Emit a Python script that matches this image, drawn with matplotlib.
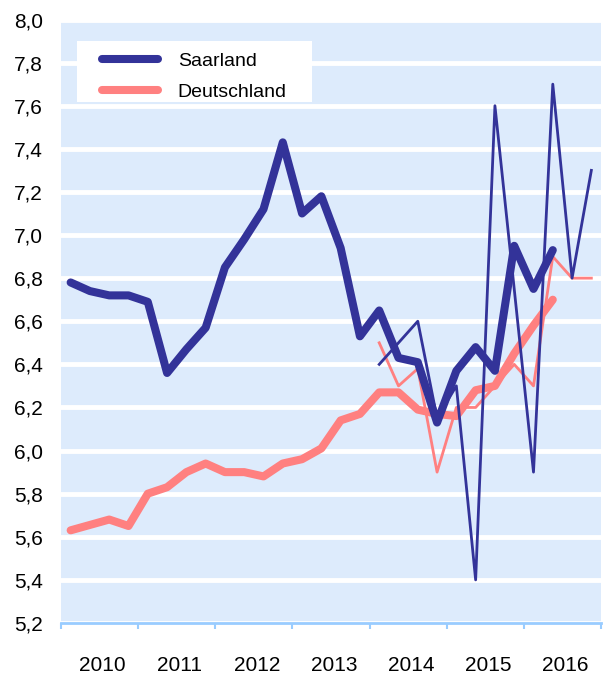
import numpy as np
import matplotlib.pyplot as plt
from matplotlib.patches import Rectangle
from matplotlib.ticker import FixedLocator, FuncFormatter

plt.rcParams['font.family'] = ['Liberation Sans', 'DejaVu Sans']

# quarterly values, 2010Q1 .. 2016Q2
saarland = [6.78, 6.74, 6.72, 6.72, 6.69, 6.36, 6.47, 6.57, 6.85, 6.98, 7.12, 7.43, 7.10,
            7.18, 6.94, 6.53, 6.65, 6.43, 6.41, 6.13, 6.37, 6.48, 6.37, 6.95, 6.75, 6.93]
deutschland = [5.63, 5.655, 5.68, 5.65, 5.80, 5.83, 5.90, 5.94, 5.90, 5.90, 5.88, 5.94, 5.96,
               6.01, 6.14, 6.17, 6.27, 6.27, 6.19, 6.17, 6.16, 6.28, 6.30, 6.45, 6.58, 6.70]
# thin lines, 2014Q1 .. 2016Q4
saarland_q = [6.40, 6.50, 6.60, 6.15, 6.30, 5.40, 7.60, 6.75, 5.90, 7.70, 6.80, 7.30]
deutschland_q = [6.50, 6.30, 6.38, 5.90, 6.20, 6.20, 6.30, 6.40, 6.30, 6.90, 6.80, 6.80]
years = [2010, 2011, 2012, 2013, 2014, 2015, 2016]

blue = "#333399"
pink = "#ff8080"

x_long = 2010 + (np.arange(len(saarland)) + 0.5) / 4
x_short = 2014 + (np.arange(len(saarland_q)) + 0.5) / 4

fig = plt.figure(figsize=(6.11, 6.77), dpi=100)
ax = fig.add_axes([61/611, 1 - 623/677, 540/611, 603.5/677])
ax.set_facecolor("#ddebfc")

ax.plot(x_long, deutschland, color=pink, lw=5.8, solid_capstyle="round", label="Deutschland", zorder=3)
ax.plot(x_short, deutschland_q, color=pink, lw=2.0, zorder=4)
ax.plot(x_long, saarland, color=blue, lw=5.8, solid_capstyle="round", label="Saarland", zorder=5)
ax.plot(x_short, saarland_q, color=blue, lw=2.0, zorder=6)

ax.set_xlim(2010, 2017)
ax.set_ylim(5.2, 8.0)
ax.set_yticks(np.arange(5.2, 8.01, 0.2))
ax.yaxis.set_major_formatter(FuncFormatter(lambda v, p: f"{v:.1f}".replace(".", ",")))
ax.grid(axis="y", color="white", lw=3.5)
ax.set_axisbelow(True)

ax.xaxis.set_major_locator(FixedLocator(list(range(2010, 2018))))
ax.xaxis.set_minor_locator(FixedLocator([y + 0.54 for y in years]))
ax.set_xticklabels([])
ax.set_xticklabels([str(y) for y in years], minor=True)
ax.tick_params(axis="x", which="major", length=4, width=1.5, color="#99ccff")
ax.tick_params(axis="x", which="minor", length=0, pad=24, labelsize=15)
ax.tick_params(axis="y", length=0, pad=13, labelsize=15)

for s in ["top", "left", "right"]:
    ax.spines[s].set_visible(False)
ax.spines["bottom"].set_color("#99ccff")
ax.spines["bottom"].set_linewidth(2)

# white legend box
ax.add_patch(Rectangle((0.0296, 0.863), 0.4352, 0.101, transform=ax.transAxes,
                       facecolor="white", edgecolor="none", zorder=2))
handles, labels = ax.get_legend_handles_labels()
leg = ax.legend(handles[::-1], labels[::-1], loc="upper left",
                bbox_to_anchor=(0.076, 0.946), borderaxespad=0, borderpad=0,
                fontsize=14, handlelength=2.9, handletextpad=1.0,
                labelspacing=0.7, frameon=False)

fig.savefig("out.png", dpi=100)
